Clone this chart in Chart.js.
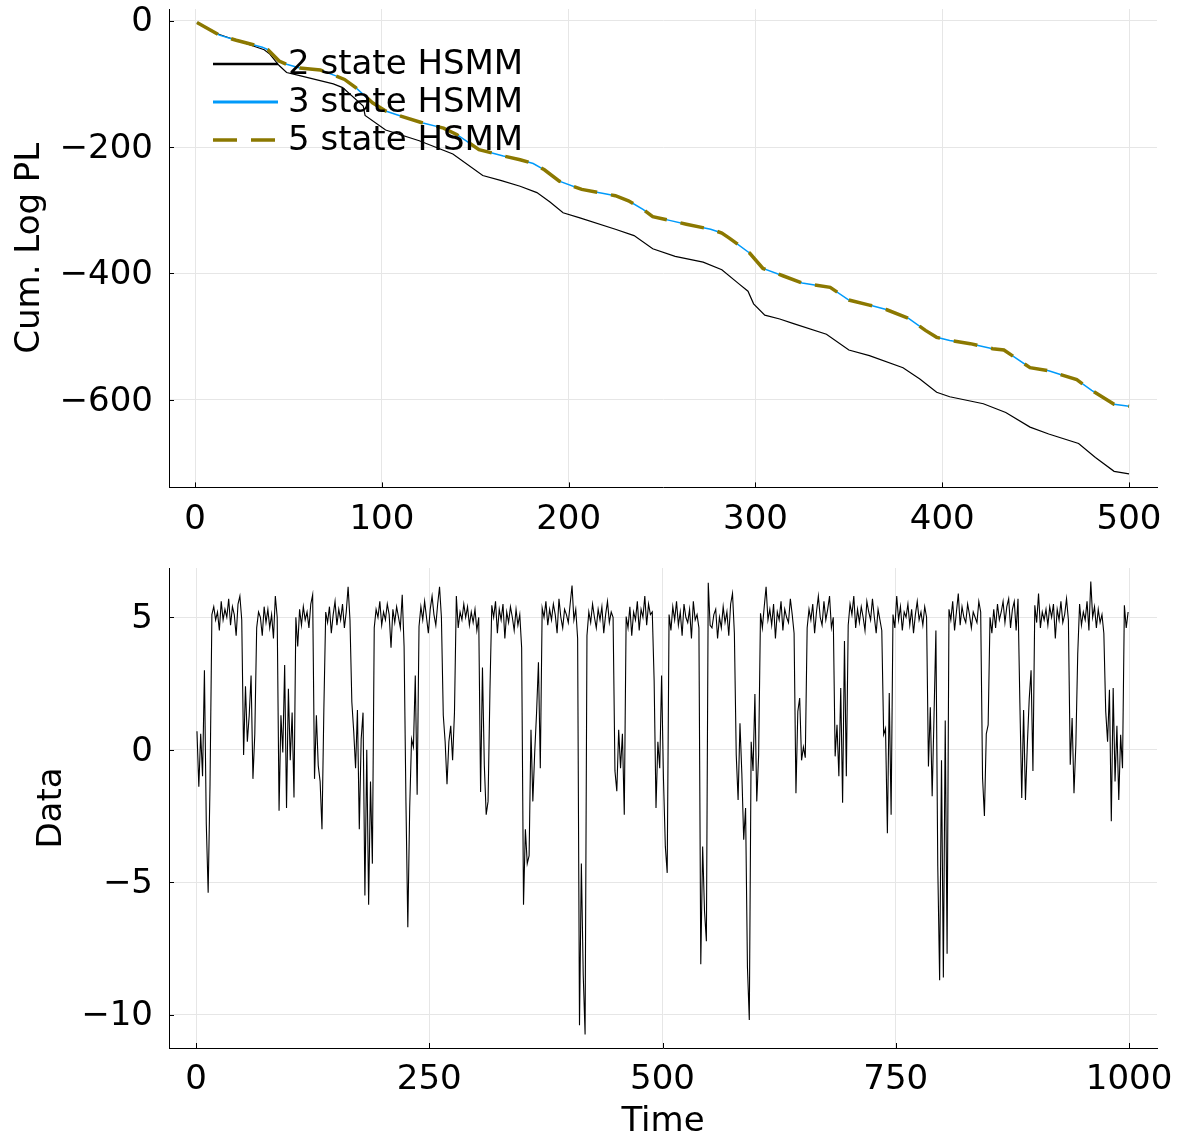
<!DOCTYPE html>
<html>
<head>
<meta charset="utf-8">
<script src="https://cdn.jsdelivr.net/npm/chart.js@4.4.1/dist/chart.umd.min.js"></script>
<style>
  html, body { margin: 0; padding: 0; background: #fff; }
  #wrap { position: relative; width: 1184px; height: 1137px; }
  .panel { position: absolute; left: 0; }
</style>
</head>
<body>
<div id="wrap">
  <div class="panel" style="top:0"><canvas id="cumChart" width="1184" height="545"></canvas></div>
  <div class="panel" style="top:545px"><canvas id="dataChart" width="1184" height="592"></canvas></div>
</div>
<script>
// cumulative log predictive likelihood
const cumTime2 = [1, 13, 37, 40, 45, 49, 56, 74, 79, 90, 91, 102, 120, 138, 154, 164, 174, 183, 190, 197,
  206, 225, 235, 245, 257, 272, 282, 291, 296, 299, 305, 313, 320, 338, 350, 361, 379, 388, 397, 404,
  422, 434, 447, 457, 473, 482, 492, 500];
const hsmm2 = [-3, -22, -46, -53, -71, -82, -87, -100, -106, -135, -150, -173, -190, -211, -245, -253, -262, -272, -287, -304,
  -312, -330, -340, -361, -373, -382, -394, -416, -428, -448, -466, -472, -479, -496, -521, -530, -549, -567, -588, -595,
  -606, -620, -643, -654, -669, -691, -713, -717];

const cumTime3 = [1, 13, 22, 36, 39, 45, 49, 56, 67, 75, 80, 86, 95, 102, 108, 122, 133, 140, 152, 165,
  174, 181, 187, 195, 207, 218, 225, 232, 240, 245, 254, 263, 276, 282, 286, 297, 304, 315, 325, 340,
  350, 361, 370, 382, 391, 397, 404, 415, 427, 433, 447, 457, 472, 480, 492, 500];
const hsmm3 = [-3, -23, -31, -42, -46, -64, -69, -75, -78, -87, -93, -106, -130, -143, -149, -162, -170, -180, -204, -214,
  -220, -226, -236, -254, -267, -273, -277, -285, -299, -310, -316, -322, -330, -336, -344, -368, -392, -404, -415, -422,
  -442, -450, -457, -471, -490, -501, -506, -511, -519, -521, -549, -554, -568, -585, -607, -610];
const hsmm5 = [-3, -23, -31, -42, -46, -64, -69, -75, -78, -87, -93, -106, -130, -143, -149, -162, -170, -180, -204, -214,
  -220, -226, -236, -254, -267, -273, -277, -285, -299, -310, -316, -322, -330, -336, -344, -368, -392, -404, -415, -422,
  -442, -450, -457, -471, -490, -501, -506, -511, -519, -521, -549, -554, -568, -585, -607, -610];

// observed data, one value every 2 time steps (t = 1, 3, 5, ...)
const observed = [
  0.7, -1.4, 0.6, -1.0, 3.0, -2.8, -5.4, -1.3,
  5.1, 5.4, 4.9, 5.2, 4.5, 5.6, 4.9, 5.3, 5.0, 5.7, 4.7, 5.4, 5.1, 4.3, 5.5, 5.8, 4.9,
  -0.2, 2.4, 0.3, 1.3, 2.8, -1.1, 0.6,
  4.6, 5.2, 5.0, 4.3, 5.4, 4.8, 5.3, 4.6, 5.1, 4.2, 5.8, 5.0,
  -2.3, 1.3, -0.1, 3.2, -2.2, 2.3, -0.4, 1.4, -1.8,
  5.0, 3.9, 5.3, 4.7, 5.4, 4.9, 5.2, 4.6, 5.5, 5.85,
  -1.1, 1.3, -0.6, -1.2, -3.0, 1.5,
  5.2, 4.8, 5.4, 4.4, 5.1, 5.6, 4.7, 5.3, 4.9, 5.5, 4.6, 5.2, 6.15, 4.9,
  1.8, 0.7, -0.7, 1.5, -3.0, 0.4, 1.4, -5.5, 0.0, -5.85, -1.2, -4.3,
  4.6, 5.3, 5.0, 5.6, 4.7, 5.2, 4.9, 5.5, 5.1, 3.85, 5.3, 4.8, 5.4, 5.0, 4.6, 5.85, 3.9,
  -2.0, -6.7, -2.2, 0.4, 0.1, 2.8, -1.7,
  4.65, 5.4, 4.9, 5.6, 5.0, 4.4, 5.3, 5.8, 5.1, 4.7, 5.5, 6.15, 5.0,
  1.3, 0.3, -1.3, 0.3, 0.9, -0.4, 1.4,
  5.8, 4.6, 5.2, 4.9, 5.5, 5.0, 5.4, 4.7, 5.2, 4.8, 5.3, 4.5, 5.0,
  -1.6, 3.1, -0.6, -2.45, -1.95, 2.2,
  5.45, 5.0, 5.6, 4.4, 5.3, 4.9, 5.5, 4.2, 5.2, 4.8, 5.4, 5.0, 4.5, 5.3, 4.7, 5.1, 3.85,
  -5.85, -3.0, -4.3, -4.0, 0.75, -1.95, -0.1, 1.4, 3.3, -0.7,
  5.35, 5.0, 5.6, 4.7, 5.3, 4.9, 5.5, 5.1, 4.4, 5.7, 5.0, 4.6, 5.3, 5.1, 4.8, 5.5, 6.2, 4.9, 5.3, 4.2,
  -10.4, -4.3, -8.5, -10.75,
  4.3, 5.2, 4.8, 5.5, 5.0, 4.6, 5.3, 4.9, 5.4, 4.4, 5.1, 5.6, 4.8, 5.2, 5.0,
  -0.8, -1.57, 0.75, -0.7, 0.6, -2.45,
  5.03, 4.6, 5.4, 4.3, 5.2, 4.9, 5.6, 4.5, 5.3, 5.0, 5.8, 4.7, 5.5, 5.1, 5.2,
  2.6, -2.2, 0.3, -0.7, 2.8, -1.1, -3.65, -4.65,
  5.1, 4.5, 5.4, 4.9, 5.6, 4.7, 5.2, 4.3, 5.5, 5.0, 4.8, 5.3, 4.2, 5.6, 4.9, 5.1, 4.6,
  -8.1, -3.65, -6.1, -7.23,
  6.3, 4.7, 4.6, 5.1, 5.3, 4.2, 5.0, 4.6, 5.4, 4.8, 5.2, 4.3, 5.5, 5.9, 4.4,
  -0.2, -1.9, 1.0, -0.9, -3.4, -2.2,
  -8.2, -10.2, 0.3, -0.8, 2.1, -1.95, -0.2,
  5.15, 4.6, 5.4, 6.15, 4.9, 5.3, 4.7, 5.5, 4.2, 5.2, 4.9, 5.6, 4.5, 5.3, 5.0, 4.8, 5.7, 5.1, 4.4,
  -1.64, 1.45, 1.95, -0.4, 0.1, -0.3,
  4.6, 5.3, 4.9, 5.5, 4.4, 5.2, 5.8, 5.0, 4.7, 5.6, 4.9, 5.3, 5.8, 4.6, 5.0,
  -0.25, 0.94, -1.0, 2.33, -2.0, 4.1, -1.0,
  4.7, 5.5, 5.1, 5.8, 4.6, 5.3, 4.8, 5.4, 5.0, 4.5, 5.6, 5.2, 4.9, 5.7, 5.0, 4.4, 5.3, 4.9, 4.5,
  0.57, 0.8, -3.15, 2.14, -2.45,
  5.1, 4.6, 5.8, 4.9, 5.4, 4.5, 5.2, 5.0, 5.5, 4.7, 5.3, 4.4, 5.1, 5.6, 4.9, 5.2, 4.7, 5.4, 5.0,
  -0.63, 1.6, -1.76, 1.3, 4.5, -4.4, -8.7, -0.4, -8.6, 1.1, -7.7,
  5.3, 4.9, 5.6, 4.5, 5.2, 5.9, 4.7, 5.4, 5.0, 4.8, 5.5, 5.1, 4.6, 5.2, 5.0, 4.8, 5.6, 5.2,
  -1.07, -2.5, 0.6, 0.94,
  5.0, 4.4, 5.3, 4.6, 5.5, 4.9, 5.2, 5.6, 4.8, 5.4, 5.7, 4.6, 5.3, 5.6, 4.5, 5.7,
  1.76, -1.82, 1.5, -1.9, 0.2, 1.9, 3.0, -0.8,
  5.45, 4.8, 5.9, 4.6, 5.2, 4.9, 5.3, 4.7, 5.4, 5.0, 5.5, 4.2, 5.3, 4.9, 5.6, 4.8, 5.1, 5.7, 4.9,
  -0.57, 1.2, -1.64, 0.2,
  3.6, 5.5, 4.7, 5.2, 4.9, 5.6, 4.5, 6.35, 5.0, 5.4, 4.6, 5.3, 4.8, 5.1, 4.4,
  1.45, 0.3, 2.26, -2.7, 2.33, -1.2, 0.9, -1.9, 0.56, -0.7,
  5.45, 4.6, 5.2
];

const cumXTicks = [0, 100, 200, 300, 400, 500];
const cumYTicks = [-600, -400, -200, 0];
const dataXTicks = [0, 250, 500, 750, 1000];
const dataYTicks = [-10, -5, 0, 5];

Chart.defaults.font.family = "'DejaVu Sans', sans-serif";
Chart.defaults.font.size = 34;
Chart.defaults.color = '#000';

const fmt = v => (v < 0 ? '\u2212' + Math.abs(v) : String(v));
const pairs = (xs, ys) => xs.map((x, i) => ({ x: x, y: ys[i] }));

// GR style: short tick marks pointing into the plot
const innerTicks = {
    id: 'innerTicks',
    afterDraw(chart) {
        const { ctx, chartArea: a, scales: { x, y } } = chart;
        ctx.save();
        ctx.strokeStyle = '#000';
        ctx.lineWidth = 1;
        ctx.beginPath();
        x.ticks.forEach(t => {
            const px = Math.round(x.getPixelForValue(t.value)) + 0.5;
            ctx.moveTo(px, a.bottom);
            ctx.lineTo(px, a.bottom - 5);
        });
        y.ticks.forEach(t => {
            const py = Math.round(y.getPixelForValue(t.value)) + 0.5;
            ctx.moveTo(a.left, py);
            ctx.lineTo(a.left + 5, py);
        });
        ctx.stroke();
        ctx.restore();
    }
};

// legend inside the plot, top left, no box
const insideLegend = {
    id: 'insideLegend',
    afterDatasetsDraw(chart) {
        const { ctx, chartArea: a } = chart;
        ctx.save();
        ctx.font = "34px 'DejaVu Sans'";
        ctx.textBaseline = 'middle';
        chart.data.datasets.forEach((ds, i) => {
            const y = a.top + 55 + i * 38;
            ctx.strokeStyle = ds.borderColor;
            ctx.lineWidth = ds.legendWidth;
            ctx.setLineDash(ds.borderDash || []);
            ctx.beginPath();
            ctx.moveTo(a.left + 44, y);
            ctx.lineTo(a.left + 109, y);
            ctx.stroke();
            ctx.setLineDash([]);
            ctx.fillStyle = '#000';
            ctx.fillText(ds.label, a.left + 119, y + 1);
        });
        ctx.restore();
    }
};

function scale(min, max, tickValues, size, vertical, title) {
    const opts = {
        type: 'linear',
        min: min,
        max: max,
        afterBuildTicks: s => { s.ticks = tickValues.map(v => ({ value: v })); },
        afterFit: s => {
            if (vertical) { s.width = size; s.paddingTop = 0; s.paddingBottom = 0; }
            else { s.height = size; s.paddingLeft = 0; s.paddingRight = 0; }
        },
        grid: { color: '#e6e6e6', lineWidth: 1, drawTicks: false },
        border: { color: '#000', width: 1 },
        ticks: {
            padding: vertical ? 16 : 12,
            labelOffset: vertical ? 2 : 0,
            maxRotation: 0,
            autoSkip: false,
            callback: v => fmt(v)
        }
    };
    if (title) {
        opts.title = {
            display: true,
            text: title.text,
            font: { size: 34, lineHeight: title.lineHeight || 1 },
            padding: title.padding
        };
    }
    return opts;
}

new Chart(document.getElementById('cumChart'), {
    type: 'line',
    data: {
        datasets: [
            { label: '2 state HSMM', data: pairs(cumTime2, hsmm2), borderColor: '#000000', borderWidth: 1.2, legendWidth: 2.5, order: 3 },
            { label: '3 state HSMM', data: pairs(cumTime3, hsmm3), borderColor: '#009AFA', borderWidth: 1.5, legendWidth: 3, order: 2 },
            { label: '5 state HSMM', data: pairs(cumTime3, hsmm5), borderColor: '#8B7800', borderWidth: 3.5, borderDash: [24, 14], legendWidth: 3.5, order: 1 }
        ]
    },
    options: {
        responsive: false,
        animation: false,
        elements: { point: { radius: 0 }, line: { tension: 0 } },
        layout: { padding: { top: 9, right: 27, left: 0, bottom: 0 } },
        plugins: { legend: { display: false }, tooltip: { enabled: false } },
        scales: {
            x: scale(-13.97, 514.97, cumXTicks, 57.6, false, null),
            y: scale(-738.4, 18.4, cumYTicks, 169, true, { text: 'Cum. Log PL', padding: { top: 13, bottom: 0 } })
        }
    },
    plugins: [innerTicks, insideLegend]
});

new Chart(document.getElementById('dataChart'), {
    type: 'line',
    data: {
        datasets: [
            { label: 'Data', data: observed.map((v, i) => ({ x: 1 + 2 * i, y: v })), borderColor: '#000000', borderWidth: 1.1 }
        ]
    },
    options: {
        responsive: false,
        animation: false,
        elements: { point: { radius: 0 }, line: { tension: 0 } },
        layout: { padding: { top: 23, right: 27, left: 0, bottom: 0 } },
        plugins: { legend: { display: false }, tooltip: { enabled: false } },
        scales: {
            x: scale(-28.97, 1029.97, dataXTicks, 89, false, { text: 'Time', lineHeight: 0.85, padding: { top: 0, bottom: 0 } }),
            y: scale(-11.26, 6.86, dataYTicks, 169, true, { text: 'Data', padding: { top: 35, bottom: 0 } })
        }
    },
    plugins: [innerTicks]
});
</script>
</body>
</html>
